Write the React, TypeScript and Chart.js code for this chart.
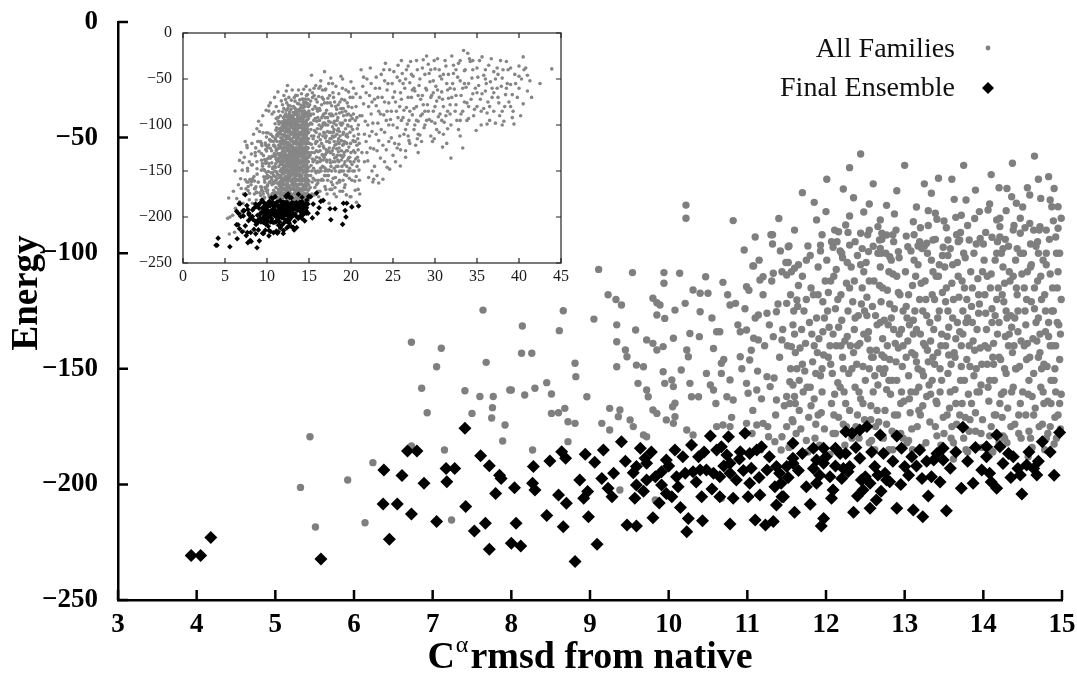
import React, { useEffect, useRef } from "react";
import { Chart, registerables } from "chart.js";

Chart.register(...registerables);

type Pt = [number, number];

// ---------- axis ticks ----------
const mainXTicks = [3, 4, 5, 6, 7, 8, 9, 10, 11, 12, 13, 14, 15];
const mainYTicks = [0, -50, -100, -150, -200, -250];
const insetXTicks = [0, 5, 10, 15, 20, 25, 30, 35, 40, 45];
const insetYTicks = [0, -50, -100, -150, -200, -250];

// ---------- text ----------
const seriesNames = ["All Families", "Final Ensemble"];
const yTitle = "Energy";
const xTitleParts = ["C", "α", "rmsd from native"];

// ---------- data: All Families (rmsd, energy) ----------
const allFamilies: Pt[] = [
  [7.64,-124.6],[6.73,-138.5],[7.11,-141.1],[7.05,-149.1],[7.68,-147.2],[6.86,-158.4],[6.93,-169],[7.41,-159.5],[7.6,-162],[7.77,-162],
  [8.0,-159.2],[7.5,-169.3],[7.76,-166.8],[7.75,-171.3],[7.92,-174.3],[7.89,-181.2],[7.15,-185.1],[6.73,-183.4],[6.24,-190.6],[5.92,-198.1],
  [5.44,-179.4],[5.32,-201.3],[5.51,-218.4],[6.14,-216.6],[7.24,-215.4],
  [9.11,-107],[9.54,-108.4],[9.94,-108.4],[10.14,-108.7],[9.94,-113],[10.47,-110.2],[10.69,-112.6],[10.96,-98.6],[11.08,-105.5],[11.2,-110.2],
  [11.33,-108.7],[11.44,-108],[11.5,-109.4],[11.6,-106.5],[9.23,-118],[9.33,-120],[9.4,-122.4],[9.8,-119.5],[9.85,-121.4],[9.89,-122.4],
  [8.66,-124.9],[9.05,-128.5],[8.61,-133.5],[8.14,-131.5],[8.13,-143.3],[8.26,-143.3],[9.85,-126.7],[9.95,-128.2],[10.08,-124.6],[10.21,-121.7],
  [10.31,-115.9],[10.4,-117.3],[10.5,-117.3],[10.4,-125.3],[10.78,-122.4],[10.85,-121.7],[10.99,-114.5],[11.16,-111.6],[11.14,-126.7],[11.25,-126],
  [11.37,-125.3],[11.5,-121.7],[11.63,-120.2],[9.34,-131],[9.34,-138.3],[9.58,-133.2],[9.72,-137.5],[9.8,-139],[9.85,-141.9],[9.93,-140.4],
  [10.06,-136.8],[10.27,-134.7],[10.23,-141.9],[10.25,-144.8],[10.39,-136.1],[10.61,-134],[10.65,-134],[10.57,-141.2],[10.67,-147.6],[10.91,-134],
  [10.99,-133.2],[11.08,-136.8],[11.14,-137.5],[10.91,-144.8],[11.03,-146.2],[11.33,-136.1],[11.44,-137.5],[11.56,-140.4],[11.54,-155.6],[11.58,-157],
  [11.5,-162],[11.61,-165],[9.34,-149.1],[9.45,-141.9],[9.47,-144.8],[9.59,-148.4],[9.68,-149.1],[9.61,-156.3],[9.72,-159.2],[9.74,-162.1],
  [9.93,-151.3],[9.95,-156.3],[10.04,-154.8],[10.06,-157.7],[10.08,-164.9],[10.05,-166.4],[10.16,-150.5],[10.27,-156.3],[10.29,-162.1],[10.38,-162.1],
  [10.48,-152],[10.53,-157],[10.57,-159.2],[10.67,-152],[10.78,-154.8],[10.74,-162.1],[10.82,-163.5],[10.99,-156.3],[11.01,-160.6],[11.12,-159.2],
  [11.25,-153.4],[11.29,-157.7],[11.37,-163.5],[9.25,-167.1],[9.36,-170.7],[9.38,-167.8],[9.51,-172.1],[9.55,-175],[9.68,-178.6],[9.72,-179.4],
  [9.8,-167.8],[9.85,-169.3],[9.97,-172.1],[10.06,-173.6],[10.08,-170.7],[10.23,-176.5],[10.31,-178.6],[10.61,-175],[10.69,-174.3],[10.78,-175],
  [10.99,-173.6],[11.12,-174.3],[11.2,-173.6],[11.27,-179.4],[11.35,-181.5],[11.44,-179.4],[11.5,-175],[11.58,-172.9],[7.98,-159.2],[8.17,-161.3],
  [8.3,-158.4],[8.45,-156],[8.51,-160.9],[8.51,-169.3],[8.6,-169],[8.68,-167.1],[8.72,-172.9],[8.81,-173.6],[8.96,-162.1],[8.81,-147.6],
  [8.82,-153.4],[8.27,-185.1],[8.72,-181.5],[9.15,-173.6],[9.25,-176.5],[9.38,-202.4],[9.83,-206.7],[10.02,-205.3],[10.67,-206],[11.43,-199.5],
  [11.43,-185.1],[10.22,-79.2],[10.22,-84.9],[10.82,-85.9],[11.32,-92],[11.32,-96],[11.52,-97.2],[11.07,-105.5],
  [12.44,-57.1],[14.37,-61.1],[14.83,-66.9],[12.01,-68],[11.7,-73.8],[12.22,-72.2],[13.43,-67.6],[13.34,-74.1],[13.9,-72.7],[14.2,-71.7],
  [14.56,-71.7],[14.59,-74.8],[13.63,-76.7],[13.78,-77],[12.55,-78.7],[12.77,-79.3],[12.48,-82.2],[12.87,-83],[14.36,-75.6],[14.42,-78.4],
  [14.73,-76.3],[14.85,-77],[14.95,-79.9],[14.87,-79.9],[14.08,-78.7],[14.06,-81.3],[14.29,-81.6],[14.47,-84.9],[14.21,-84.9],[13.3,-81.6],
  [13.39,-82.7],[13.41,-85.3],[13.5,-86.1],[13.65,-84.5],[13.72,-83.6],[13.11,-86.4],[11.88,-85.6],[12.3,-83.9],[12.25,-87.8],[12.11,-90],
  [12.16,-90.7],[12.44,-91.4],[12.69,-85.6],[12.66,-88.5],[12.71,-91.4],[12.77,-92.1],[12.68,-94.3],[11.53,-96.9],[11.77,-96.9],[11.93,-96.5],
  [12.09,-97.4],[12.3,-96.5],[12.37,-95],[12.54,-99.3],[12.69,-97.9],[12.81,-101.5],[12.92,-99.3],[13.02,-92.6],[13.04,-97.2],[13.17,-96.9],
  [13.28,-95.7],[13.36,-94.3],[13.49,-97.4],[13.55,-94.3],[13.7,-94.3],[13.82,-94.3],[13.96,-93.6],[14.11,-93.1],[14.17,-85.6],[14.21,-88.5],
  [14.38,-90],[14.47,-91.4],[14.59,-87.1],[14.64,-90],[14.72,-88.5],[14.8,-90],[14.95,-89.2],[14.99,-84.9],
  [14.97,-165],[14.68,-190.8],[13.62,-189],[13.05,-181],[14.25,-179],[12.85,-185],[11.75,-181],[14.9,-182.5],
  [10.55,-128],[10.6,-165],[10.7,-146],[10.75,-118],[10.8,-171],[10.88,-131],[10.93,-150],[10.97,-124],
  [11.02,-116],[11.05,-142],[11.07,-168],[11.1,-128],[11.13,-151],[11.15,-103],[11.18,-163],[11.2,-118],[11.22,-140],[11.26,-175],
  [11.28,-131],[11.31,-112],[11.34,-154],[11.36,-170],[11.39,-122],[11.41,-145],[11.45,-133],[11.47,-166],[11.49,-104],[11.06,-178],
  [11.17,-185],[11.3,-92],[11.42,-99],
  [11.52,-104],[11.55,-118],[11.58,-131],[11.61,-143],[11.63,-150],[11.66,-168],[11.68,-176],[11.7,-110],[11.72,-125],[11.74,-139],
  [11.76,-158],[11.78,-171],[11.8,-101],[11.81,-115],[11.83,-147],[11.85,-163],[11.86,-180],[11.88,-128],[11.9,-106],[11.91,-137],
  [11.93,-153],[11.94,-169],[11.96,-121],[11.97,-144],[11.99,-112],[11.6,-162],[11.69,-133],[11.77,-186],[11.87,-174],[11.95,-160],
  [11.57,-172],[11.64,-123],[11.82,-135],[11.73,-151],[11.92,-183],
  [12.01,-103],[12.03,-117],[12.04,-132],[12.06,-148],[12.07,-165],[12.09,-178],[12.1,-110],[12.12,-124],[12.13,-140],[12.15,-156],
  [12.16,-171],[12.18,-99],[12.2,-129],[12.21,-145],[12.23,-160],[12.24,-183],[12.26,-113],[12.27,-136],[12.29,-152],[12.3,-168],
  [12.32,-106],[12.34,-121],[12.35,-143],[12.37,-158],[12.38,-175],[12.4,-101],[12.41,-127],[12.43,-139],[12.44,-163],[12.46,-115],
  [12.47,-149],[12.49,-172],[12.05,-187],[12.14,-95],[12.22,-174],[12.28,-91],[12.36,-133],[12.42,-180],[12.48,-108],[12.11,-161],
  [12.51,-104],[12.52,-119],[12.54,-134],[12.55,-150],[12.57,-166],[12.58,-181],[12.6,-97],[12.61,-112],[12.63,-127],[12.64,-142],
  [12.66,-157],[12.67,-173],[12.69,-106],[12.7,-121],[12.72,-137],[12.73,-152],[12.75,-168],[12.76,-100],[12.78,-116],[12.79,-131],
  [12.81,-146],[12.82,-161],[12.84,-177],[12.85,-109],[12.87,-124],[12.88,-139],[12.9,-155],[12.91,-170],[12.93,-102],[12.94,-118],
  [12.96,-133],[12.97,-149],[12.99,-164],[12.53,-92],[12.62,-185],[12.71,-94],[12.8,-185],[12.89,-90],[12.98,-180],[12.56,-142],
  [12.65,-131],[12.74,-145],[12.83,-128],[12.92,-141],[12.77,-159],
  [13.01,-108],[13.02,-123],[13.04,-138],[13.05,-153],[13.07,-169],[13.08,-99],[13.1,-114],[13.11,-129],[13.13,-144],[13.14,-160],
  [13.16,-175],[13.17,-105],[13.19,-120],[13.2,-135],[13.22,-151],[13.23,-166],[13.25,-97],[13.26,-112],[13.28,-127],[13.29,-142],
  [13.31,-157],[13.32,-173],[13.34,-103],[13.35,-118],[13.37,-133],[13.38,-148],[13.4,-164],[13.41,-179],[13.43,-110],[13.44,-125],
  [13.46,-140],[13.47,-155],[13.49,-171],[13.03,-182],[13.12,-92],[13.21,-184],[13.3,-88],[13.39,-94],[13.48,-101],[13.06,-131],
  [13.15,-147],[13.24,-139],[13.33,-161],[13.42,-143],[13.18,-158],
  [13.51,-106],[13.52,-121],[13.54,-136],[13.55,-152],[13.57,-167],[13.58,-98],[13.6,-113],[13.61,-128],[13.63,-143],[13.64,-159],
  [13.66,-174],[13.67,-104],[13.69,-119],[13.7,-134],[13.72,-149],[13.73,-165],[13.75,-100],[13.76,-115],[13.78,-130],[13.79,-146],
  [13.81,-161],[13.82,-177],[13.84,-108],[13.85,-123],[13.87,-138],[13.88,-153],[13.9,-169],[13.91,-96],[13.93,-111],[13.94,-126],
  [13.96,-141],[13.97,-157],[13.99,-172],[13.53,-89],[13.62,-182],[13.71,-91],[13.8,-186],[13.89,-85],[13.98,-184],[13.56,-144],
  [13.65,-137],[13.74,-125],[13.83,-149],[13.92,-133],[13.77,-171],
  [14.01,-103],[14.02,-118],[14.04,-133],[14.05,-148],[14.07,-164],[14.08,-179],[14.1,-109],[14.11,-124],[14.13,-139],[14.14,-155],
  [14.16,-170],[14.17,-100],[14.19,-115],[14.2,-130],[14.22,-146],[14.23,-161],[14.25,-106],[14.26,-121],[14.28,-136],[14.29,-152],
  [14.31,-167],[14.32,-97],[14.34,-112],[14.35,-127],[14.37,-143],[14.38,-158],[14.4,-174],[14.41,-103],[14.43,-118],[14.44,-134],
  [14.46,-149],[14.47,-165],[14.49,-109],[14.03,-91],[14.12,-186],[14.21,-93],[14.3,-182],[14.39,-88],[14.48,-180],[14.06,-141],
  [14.15,-127],[14.24,-171],[14.33,-135],[14.42,-150],[14.27,-113],
  [14.51,-100],[14.52,-115],[14.54,-131],[14.55,-146],[14.57,-161],[14.58,-177],[14.6,-106],[14.61,-121],[14.63,-137],[14.64,-152],
  [14.66,-167],[14.67,-97],[14.69,-112],[14.7,-128],[14.72,-143],[14.73,-158],[14.75,-174],[14.76,-103],[14.78,-118],[14.79,-134],
  [14.81,-149],[14.82,-164],[14.84,-94],[14.85,-109],[14.87,-125],[14.88,-140],[14.9,-155],[14.91,-171],[14.93,-100],[14.94,-115],
  [14.96,-131],[14.97,-146],[14.99,-161],[14.53,-89],[14.62,-184],[14.71,-90],[14.8,-180],[14.89,-86],[14.98,-176],[14.56,-139],
  [14.65,-124],[14.74,-150],[14.83,-136],[14.92,-160],[14.77,-165],
  [11.51,-140],[11.54,-165],[11.56,-108],[11.59,-125],[11.62,-178],[11.65,-114],[11.67,-141],[11.71,-160],[11.75,-103],[11.79,-130],
  [11.84,-118],[11.87,-152],[11.9,-170],[11.93,-99],[11.96,-134],[11.98,-176],[11.53,-184],[11.66,-155],[11.81,-166],[11.89,-143],
  [12.02,-125],[12.05,-140],[12.08,-152],[12.1,-170],[12.13,-107],[12.16,-132],[12.19,-118],[12.22,-150],[12.25,-165],[12.28,-125],
  [12.31,-140],[12.33,-180],[12.36,-112],[12.39,-148],[12.42,-160],[12.45,-122],[12.48,-135],[12.5,-155],[12.12,-178],[12.27,-104],
  [12.4,-170],[12.46,-98],[12.19,-140],[12.07,-95],
  [12.52,-127],[12.55,-112],[12.58,-145],[12.6,-160],[12.63,-175],[12.66,-100],[12.69,-130],[12.72,-115],[12.75,-150],[12.78,-140],
  [12.81,-122],[12.84,-155],[12.87,-170],[12.9,-110],[12.93,-135],[12.96,-160],[12.98,-125],[12.6,-145],[12.73,-180],[12.86,-95],
  [12.95,-178],[12.57,-172],[12.68,-150],[12.8,-108],
  [13.02,-145],[13.05,-118],[13.08,-160],[13.11,-135],[13.14,-110],[13.17,-150],[13.2,-170],[13.23,-125],[13.26,-140],[13.29,-100],
  [13.32,-130],[13.35,-155],[13.38,-120],[13.41,-165],[13.44,-105],[13.47,-135],[13.5,-178],[13.09,-176],[13.19,-95],[13.27,-182],
  [13.36,-145],[13.45,-150],[13.13,-125],[13.4,-110],
  [13.52,-140],[13.55,-125],[13.58,-160],[13.61,-105],[13.64,-145],[13.67,-130],[13.7,-170],[13.73,-112],[13.76,-155],[13.79,-120],
  [13.82,-140],[13.85,-165],[13.88,-100],[13.91,-150],[13.94,-118],[13.97,-178],[13.59,-180],[13.68,-95],[13.78,-185],[13.86,-130],
  [13.95,-160],[13.54,-170],[13.72,-140],[13.99,-108],
  [14.02,-140],[14.05,-110],[14.08,-155],[14.11,-130],[14.14,-170],[14.17,-120],[14.2,-145],[14.23,-100],[14.26,-160],[14.29,-125],
  [14.32,-140],[14.35,-175],[14.38,-110],[14.41,-150],[14.44,-125],[14.47,-100],[14.5,-160],[14.09,-185],[14.18,-95],[14.27,-180],
  [14.36,-132],[14.45,-170],[14.13,-148],[14.4,-128],
  [14.52,-140],[14.55,-120],[14.58,-155],[14.61,-105],[14.64,-170],[14.67,-130],[14.7,-145],[14.73,-110],[14.76,-160],[14.79,-125],
  [14.82,-178],[14.85,-140],[14.88,-115],[14.91,-150],[14.94,-130],[14.97,-100],[14.6,-180],[14.69,-95],[14.78,-185],[14.86,-165],
  [14.95,-170],[14.54,-170],[14.72,-135],[14.99,-120],
  [11.6,-90],[11.85,-78],[12.0,-82],[12.35,-76],[12.6,-70],[12.9,-73],[13.15,-80],[13.25,-70],[13.6,-68],[13.95,-82],
  [14.1,-66],[14.3,-72],[14.5,-80],[14.7,-68],[14.9,-72],[11.95,-92],[12.2,-100],[12.55,-90],[12.85,-92],[13.2,-89],
  [13.55,-101],[13.8,-88],[14.0,-96],[14.25,-98],[14.6,-96],[14.8,-100],[14.92,-93],[13.0,-62],[13.75,-62],[14.65,-58],
  [12.3,-63],[11.4,-85],[11.1,-93],
  [12.53,-137],[12.59,-123],[12.62,-153],[12.65,-168],[12.68,-114],[12.71,-144],[12.74,-129],[12.77,-174],[12.8,-155],[12.83,-103],
  [12.86,-133],[12.89,-147],[12.92,-117],[12.95,-165],[12.98,-140],[12.55,-182],[12.7,-100],[12.88,-178],
  [13.03,-128],[13.06,-163],[13.09,-143],[13.12,-103],[13.15,-133],[13.18,-168],[13.21,-113],[13.24,-153],[13.27,-120],[13.3,-147],
  [13.33,-138],[13.36,-108],[13.39,-175],[13.42,-128],[13.45,-160],[13.48,-117],[13.1,-185],[13.28,-162],[13.46,-183],[13.22,-98],
  [13.53,-115],[13.56,-132],[13.59,-148],[13.62,-120],[13.65,-165],[13.68,-110],[13.71,-155],[13.74,-135],[13.77,-102],[13.8,-128],
  [13.83,-172],[13.86,-115],[13.89,-142],[13.92,-160],[13.95,-122],[13.98,-148],[13.6,-175],[13.75,-180],[13.9,-177],[13.66,-92],
  [14.03,-126],[14.06,-158],[14.09,-115],[14.12,-145],[14.15,-103],[14.18,-135],[14.21,-165],[14.24,-118],[14.27,-150],[14.3,-128],
  [14.33,-108],[14.36,-160],[14.39,-140],[14.42,-115],[14.45,-178],[14.48,-138],[14.1,-175],[14.28,-94],[14.43,-98],[14.2,-182],
  [14.53,-125],[14.56,-108],[14.59,-145],[14.62,-162],[14.65,-115],[14.68,-138],[14.71,-175],[14.74,-120],[14.77,-148],[14.8,-105],
  [14.83,-130],[14.86,-155],[14.89,-125],[14.92,-140],[14.95,-108],[14.98,-135],[14.7,-100],[14.85,-175],[14.57,-188],[14.93,-180],
  [12.03,-145],[12.06,-112],[12.09,-135],[12.15,-120],[12.18,-158],[12.21,-102],[12.24,-138],[12.3,-115],[12.33,-150],[12.37,-128],
  [12.4,-140],[12.44,-105],[12.47,-165],[12.49,-125],[12.26,-175],
  [11.55,-150],[11.6,-135],[11.65,-105],[11.7,-148],[11.75,-120],[11.8,-158],[11.85,-140],[11.9,-118],[11.95,-150],[11.98,-128],
];

// points only visible in the full-range inset
const allFamiliesInsetOnly: Pt[] = [
  [9.0,-96],[9.5,-90],[9.9,-84],[10.4,-76],[10.9,-70],[11.3,-64],[8.4,-110],[8.8,-104],[7.6,-122],[9.3,-100],[10.6,-88],[11.1,-80],
  [6.2,-150],[6.6,-165],[6.9,-130],[7.2,-175],[7.4,-118],[7.9,-140],[8.2,-120],[8.5,-175],[8.8,-140],[6.4,-180],[7.0,-195],[7.7,-150],
  [8.1,-165],[8.6,-130],[5.6,-200],[6.0,-172],[8.9,-118],[7.3,-135],
  [15.1,-62],[15.2,-88],[15.3,-112],[15.4,-137],[15.5,-158],[15.6,-176],[15.2,-74],[15.35,-99],[15.45,-125],[15.55,-147],[15.7,-168],
  [15.8,-57],[15.9,-82],[16.0,-104],[16.1,-129],[16.2,-151],[16.3,-172],[15.75,-93],[15.85,-118],[15.95,-141],[16.05,-163],[16.15,-69],
  [16.25,-95],[16.35,-116],[16.45,-138],[16.55,-159],[16.65,-181],[16.4,-52],[16.5,-78],[16.6,-101],[16.7,-123],[16.8,-146],[16.9,-167],
  [16.75,-88],[16.85,-109],[16.95,-132],[17.05,-155],[17.15,-175],[17.0,-61],[17.1,-84],[17.2,-107],[17.3,-128],[17.4,-149],[17.5,-170],
  [17.25,-71],[17.35,-96],[17.45,-119],[17.55,-141],[17.65,-162],[17.6,-49],[17.7,-79],[17.8,-102],[17.9,-125],[18.0,-147],[18.1,-168],
  [17.85,-90],[17.95,-113],[18.05,-136],[18.15,-157],[18.25,-178],[18.2,-58],[18.3,-83],[18.4,-106],[18.5,-129],[18.6,-151],[18.7,-172],
  [18.35,-95],[18.45,-118],[18.55,-140],[18.65,-162],[18.8,-47],[18.9,-72],[19.0,-98],[19.1,-121],[19.2,-143],[19.3,-165],[18.95,-86],
  [19.05,-110],[19.15,-133],[19.25,-154],[19.4,-62],[19.5,-89],[19.6,-113],[19.7,-136],[19.8,-158],[19.9,-178],[19.55,-76],[19.65,-101],
  [19.75,-124],[19.85,-147],[20.0,-53],[20.1,-81],[20.2,-105],[20.3,-128],[20.4,-150],[20.5,-171],[20.15,-93],[20.25,-117],[20.35,-140],
  [20.45,-161],[20.6,-66],[20.7,-92],[20.8,-115],[20.9,-139],[21.0,-160],[20.75,-104],[20.85,-127],[20.95,-149],[21.05,-175],[15.15,-168],
  [15.65,-130],[16.3,-84],[16.95,-114],[17.55,-97],[18.25,-121],[18.75,-133],[19.35,-104],[19.95,-120],[20.55,-137],[15.3,-46],[16.85,-42],
  [18.55,-66],[19.45,-176],[20.65,-184],[17.4,-185],
  [15.05,-120],[15.25,-144],[15.45,-83],[15.65,-106],[15.85,-152],[16.05,-92],[16.25,-136],[16.45,-160],[16.65,-112],[16.85,-76],
  [17.05,-127],[17.25,-150],[17.45,-88],[17.65,-115],[17.85,-140],[18.05,-75],[18.25,-100],[18.45,-145],[18.65,-87],[18.85,-117],
  [19.05,-160],[19.25,-73],[19.45,-128],[19.65,-150],[19.85,-95],[15.12,-133],[15.38,-162],[15.62,-68],[15.88,-128],[16.12,-113],
  [16.38,-147],[16.62,-133],[16.88,-98],[17.12,-140],[17.38,-108],[17.62,-130],[17.88,-158],[18.12,-112],[18.38,-133],[18.62,-107],
  [18.88,-150],[19.12,-90],[19.38,-119],[19.62,-138],[19.88,-108],[20.12,-143],[20.38,-118],[20.62,-156],[20.88,-100],[15.5,-115],
  [16.0,-140],[16.5,-120],[17.0,-100],[17.5,-130],[18.0,-118],[18.5,-104],[19.0,-135],[19.5,-145],[20.0,-130],[20.5,-95],
  [15.15,-90],[15.3,-130],[15.42,-70],[15.58,-95],[15.72,-150],[15.85,-108],[15.98,-75],[16.1,-160],[16.22,-123],[16.35,-58],
  [16.48,-102],[16.6,-145],[16.72,-72],[16.85,-155],[16.98,-87],[17.1,-118],[17.22,-160],[17.35,-55],[17.48,-138],[17.6,-90],
  [17.72,-170],[17.85,-65],[17.98,-105],[18.1,-140],[18.22,-88],[18.35,-163],[18.48,-78],[18.6,-120],[18.72,-98],[18.85,-138],
  [18.98,-60],[19.1,-108],[19.22,-168],[19.35,-85],[19.48,-155],[19.6,-100],[19.72,-64],[19.85,-135],[19.98,-90],[20.1,-160],
  [20.22,-70],[20.35,-112],[20.48,-130],[20.6,-80],[20.72,-145],[20.85,-170],[20.98,-120],[21.05,-90],[15.7,-80],[16.2,-100],
  [16.7,-138],[17.2,-92],[17.7,-150],[18.2,-135],[18.7,-150],[19.2,-118],[19.7,-88],[20.2,-150],[20.7,-122],[15.2,-155],
  [15.22,-105],[15.48,-140],[15.78,-120],[16.02,-85],[16.28,-110],[16.52,-92],[16.78,-125],[17.02,-148],[17.28,-118],[17.52,-76],
  [17.78,-112],[18.02,-96],[18.28,-145],[18.52,-115],[18.78,-82],[19.02,-122],[19.28,-140],[19.52,-110],[19.78,-150],[20.02,-102],
  [20.28,-88],[20.52,-118],[20.78,-135],[15.35,-175],[16.15,-178],[17.0,-170],[18.0,-175],[19.0,-172],[20.0,-178],[15.6,-60],
  [16.6,-62],[17.8,-55],[19.0,-50],[20.3,-60],[15.9,-165],[16.9,-150],[17.9,-132],[18.9,-100],[19.9,-70],[20.9,-110],
  [15.08,-78],[15.18,-98],[15.28,-121],[15.33,-150],[15.4,-65],[15.52,-88],[15.58,-112],[15.68,-138],[15.75,-160],[15.82,-72],
  [15.92,-96],[15.96,-118],[16.04,-150],[16.08,-172],[16.18,-60],[16.24,-82],[16.32,-128],[16.4,-104],[16.44,-150],[16.56,-70],
  [16.58,-132],[16.64,-90],[16.68,-160],[16.76,-108],[16.82,-135],[16.92,-62],[16.96,-92],[17.04,-112],[17.08,-138],[17.18,-76],
  [17.24,-100],[17.32,-155],[17.42,-125],[17.46,-68],[17.58,-108],[17.62,-145],[17.68,-88],[17.76,-128],[17.82,-165],[17.92,-70],
  [17.96,-98],[18.08,-122],[18.14,-150],[18.18,-80],[18.32,-110],[18.42,-138],[18.44,-92],[18.58,-125],[18.62,-160],[18.68,-75],
  [18.82,-100],[18.86,-128],[18.92,-145],[19.08,-82],[19.18,-130],[19.32,-95],[19.42,-112],[19.58,-128],[19.68,-80],[19.92,-140],
  [15.9,-135],[16.3,-140],[16.7,-98],[17.1,-130],[17.5,-115],[17.9,-108],[18.3,-126],[18.7,-112],[19.1,-150],[19.5,-120],
  [21.2,-40],[21.4,-58],[21.5,-77],[21.7,-96],[21.8,-118],[22.0,-139],[22.1,-157],[21.3,-130],[21.9,-50],[22.2,-68],
  [22.4,-88],[22.5,-107],[22.7,-126],[22.8,-145],[22.3,-38],[22.6,-162],[22.9,-60],[23.0,-79],[23.2,-98],[23.3,-117],
  [23.5,-136],[23.1,-155],[23.6,-45],[23.7,-70],[23.9,-89],[24.0,-108],[24.2,-127],[24.3,-146],[23.8,-159],[24.1,-33],
  [24.4,-55],[24.5,-76],[24.7,-94],[24.8,-114],[25.0,-133],[24.6,-148],[25.1,-42],[25.2,-64],[25.4,-85],[25.5,-103],
  [25.7,-121],[25.9,-127],[25.3,-140],[25.6,-35],[25.8,-52],[26.0,-72],[26.2,-92],[26.3,-110],[26.5,-128],[26.1,-44],
  [26.4,-60],[26.6,-81],[26.7,-99],[26.9,-117],[26.8,-36],[27.0,-54],[27.2,-70],[27.3,-89],[27.5,-105],[27.7,-122],
  [27.1,-31],[27.4,-47],[27.6,-63],[27.8,-80],[28.0,-96],[28.2,-111],[27.9,-40],[28.1,-57],[28.3,-72],[28.5,-88],
  [28.6,-29],[28.7,-103],[28.4,-118],[28.8,-45],[29.0,-62],[29.1,-78],[29.3,-94],[29.5,-112],[29.2,-34],[29.4,-53],
  [29.6,-68],[29.8,-85],[29.7,-118],[30.0,-39],[30.1,-58],[30.2,-74],[30.4,-91],[30.5,-108],[30.3,-28],[30.6,-47],
  [30.8,-64],[31.0,-80],[31.1,-97],[30.9,-124],[31.3,-36],[31.4,-55],[31.6,-71],[31.8,-88],[31.9,-136],[31.5,-104],
  [32.0,-25],[32.2,-44],[32.3,-61],[32.5,-78],[32.6,-95],[32.8,-33],[33.0,-52],[33.1,-68],[33.3,-85],[33.3,-125],
  [33.4,-19],[33.9,-22],[33.5,-41],[33.7,-59],[33.8,-76],[34.0,-93],[34.2,-31],[34.4,-49],[34.5,-66],[34.7,-83],
  [34.9,-106],[35.0,-38],[35.2,-57],[35.4,-72],[35.6,-26],[35.8,-46],[36.0,-63],[36.2,-87],[36.2,-99],[36.4,-35],
  [36.6,-53],[36.8,-70],[37.2,-98],[37.0,-42],[37.4,-60],[37.6,-76],[37.8,-30],[38.0,-49],[38.2,-96],[38.4,-67],
  [38.5,-31],[38.7,-40],[39.0,-56],[39.2,-67],[39.4,-99],[39.6,-55],[39.3,-85],[40.0,-47],[40.5,-26],[40.5,-77],
  [40.2,-90],[41.0,-63],[40.8,-38],[41.3,-52],[43.9,-39],[25.87,-144.6],[23.3,-163],[22.7,-159],
  [21.1,-70],[21.3,-90],[21.6,-110],[21.6,-140],[21.9,-130],[22.1,-80],[22.2,-112],[22.4,-55],[22.6,-98],[22.8,-72],
  [23.0,-48],[23.1,-128],[23.3,-85],[23.4,-60],[23.6,-105],[23.8,-122],[23.9,-40],[24.0,-75],[24.2,-95],[24.3,-62],
  [24.5,-118],[24.6,-40],[24.8,-85],[24.9,-55],[25.0,-100],[25.2,-120],[25.3,-75],[25.5,-48],[25.6,-92],[25.8,-112],
  [25.9,-65],[26.0,-30],[26.2,-55],[26.3,-84],[26.5,-105],[26.6,-40],[26.8,-70],[26.9,-95],[27.0,-120],[27.2,-45],
  [27.3,-62],[27.5,-82],[27.6,-100],[27.8,-30],[27.9,-115],[28.0,-68],[28.2,-50],[28.3,-90],[28.5,-38],[28.6,-78],
  [28.8,-100],[28.9,-60],[29.0,-25],[29.2,-85],[29.3,-44],[29.5,-70],[29.6,-96],[29.8,-52],[29.9,-30],[30.0,-80],
  [30.2,-105],[30.3,-62],[30.5,-40],[30.6,-88],[30.8,-50],[30.9,-72],[31.0,-110],[31.2,-30],[31.3,-90],[31.5,-62],
  [31.6,-45],[31.8,-78],[31.9,-100],[32.1,-55],[32.2,-35],[32.4,-85],[32.5,-68],[32.7,-48],[32.8,-105],[33.0,-30],
  [33.1,-88],[33.3,-60],[33.5,-75],[33.6,-40],[33.8,-95],[34.0,-55],[34.1,-28],[34.3,-72],[34.5,-40],[34.6,-90],
  [34.8,-60],[35.0,-80],[35.1,-48],[35.3,-30],[35.5,-100],[35.6,-66],[35.8,-82],[36.0,-40],[36.1,-55],[36.3,-75],
  [36.5,-95],[36.7,-28],[36.8,-60],[37.0,-85],[37.2,-50],[37.4,-38],[37.5,-70],[37.7,-90],[37.9,-58],[38.1,-40],
  [38.3,-80],[38.6,-55],[38.8,-75],[39.0,-38],[39.2,-92],[39.5,-45],[39.8,-70],[40.0,-60],[40.3,-50],[40.6,-40],
  [41.0,-46],[38.0,-100],[33.0,-112],[31.4,-120],[29.9,-115],[28.0,-130],[26.5,-135],[24.0,-140],[22.5,-150],
  [21.5,-48],[22.0,-100],[22.5,-75],[23.0,-110],[23.5,-88],[24.0,-52],[24.5,-100],[25.0,-70],[25.5,-125],[26.0,-95],
  [26.5,-50],[27.0,-85],[27.5,-60],[28.0,-110],[28.5,-68],[29.0,-95],[29.5,-40],[30.0,-98],[30.5,-70],[31.0,-45],
  [31.5,-85],[32.0,-70],[32.5,-40],[33.0,-95],[33.5,-55],[34.0,-80],[34.5,-30],[35.0,-65],[35.5,-85],[36.0,-50],
  [36.5,-80],[37.0,-65],[37.5,-45],[38.0,-85],[38.5,-60],[39.0,-80],[40.0,-36],[41.5,-70],[42.5,-55],[21.8,-65],
  [22.3,-125],[23.2,-70],[24.3,-85],[25.8,-80],[26.8,-112],[27.8,-95],[28.8,-85],[29.8,-65],[30.8,-95],[31.8,-60],
];

// ---------- data: Final Ensemble ----------
const finalEnsemble: Pt[] = [
  [3.93,-230.7],[4.05,-230.7],[4.18,-223],[5.58,-232.3],[6.38,-193.8],[6.61,-196.2],[6.37,-208.5],[6.55,-208.5],[6.45,-223.7],[6.68,-185.6],
  [6.8,-185.6],[6.73,-212.8],[6.89,-199.5],[7.05,-216.1],[7.17,-193.1],[7.28,-193.1],[7.18,-198.8],[7.41,-175.7],[7.42,-209.6],[7.53,-220.2],
  [7.61,-187.6],[7.67,-216.8],[7.72,-191.9],[7.72,-228],[7.85,-196],[7.87,-197.5],[7.8,-203.9],[8.04,-201.4],[8.0,-225.5],[8.06,-216.8],
  [8.12,-226.6],[8.28,-192.3],[8.49,-189.9],[8.64,-185.9],[8.69,-188.7],[8.27,-199.5],[8.3,-202.4],[8.45,-213.5],[8.66,-218.3],[8.6,-204.6],
  [8.7,-208.2],[8.81,-233.4],[8.94,-187],[9.06,-190.4],[9.17,-185.1],[8.87,-198.1],[8.97,-203.1],[8.92,-206],[8.98,-214],[9.09,-225.9],
  [9.15,-197.4],[9.23,-201.7],[9.3,-195.2],[9.28,-205.3],[9.4,-181.5],[9.57,-206],[9.47,-217.6],[9.59,-218],[9.8,-214.4],[9.64,-184.4],
  [9.7,-188.7],[9.59,-192.3],[9.72,-190.9],[9.59,-200.3],[9.72,-198.1],[9.83,-196.7],[9.91,-194.5],[9.91,-200.3],[9.97,-203.9],[10.04,-205.3],
  [9.97,-189.4],[10.08,-185.1],[10.1,-196.7],[10.21,-195.2],[10.31,-194.5],[10.4,-193.8],[10.48,-193.8],[10.29,-183],[10.38,-188],[10.42,-205.3],
  [10.25,-214.7],[10.23,-220.5],[10.43,-215.7],[10.53,-179.1],[10.61,-185.1],[10.67,-183.7],[10.74,-187.3],[10.78,-190.9],[10.57,-195.2],[10.65,-196.7],
  [10.78,-195.2],[10.86,-198.1],[10.65,-205.3],[10.76,-179.4],[10.97,-177.9],[10.91,-185.9],[11.03,-186.6],[11.12,-185.1],[11.18,-183.7],[10.78,-217.1],
  [11.03,-199.5],[11.01,-205.3],[11.16,-204.6],[11.1,-215.4],[11.23,-217.6],[11.33,-216.1],[11.25,-193.8],[11.37,-192.3],[11.5,-192.3],[11.58,-188.7],
  [11.58,-182.2],[11.43,-199.5],[11.44,-205.3],[11.37,-208.9],
  [11.58,-190.9],[11.41,-195.2],[11.46,-205.3],[11.7,-186.6],[11.84,-184.4],[11.97,-184.4],[11.88,-189.4],[11.97,-190.9],[11.84,-193.1],[12.12,-184.4],
  [12.18,-186.6],[12.25,-186.6],[12.25,-177.2],[12.33,-177.9],[12.43,-176.5],[12.52,-175],[11.88,-199.5],[12.05,-196.7],[12.09,-202.4],[12.07,-206],
  [11.8,-208.6],[11.97,-214.7],[11.94,-218],[12.22,-193.1],[12.28,-194.5],[12.3,-192.3],[12.2,-197.4],[12.43,-188.7],[12.45,-198.1],[12.47,-202.4],
  [12.62,-192.3],[12.66,-195.9],[12.5,-196.7],[12.56,-199.5],[12.69,-178.6],[12.64,-206.7],[12.56,-210.3],[12.73,-186.6],[12.75,-195.2],[12.77,-198.1],
  [12.81,-198.8],[12.9,-179.1],[12.96,-184.4],[13.0,-192.3],[12.9,-210.3],[13.09,-188],[13.19,-185.1],[13.11,-211.1],[13.23,-214],[13.22,-197.4],
  [13.34,-196.7],[13.37,-189.4],[13.41,-186.6],[13.49,-184.4],[13.49,-189.4],[13.53,-211.4],[13.74,-175.3],[13.72,-201.7],[13.87,-199.5],[13.98,-193.8],
  [14.04,-183.7],[14.04,-188],[14.08,-195.2],[14.17,-201.7],[14.17,-178.6],[14.21,-183.7],[14.32,-186.6],[14.38,-188],[14.44,-193.1],[14.47,-195.9],
  [14.55,-191.6],[14.64,-193.1],[14.68,-195.9],[14.49,-204.2],[14.75,-181.5],[14.97,-177.6],
  [9.55,-195],[9.68,-203],[9.78,-186],[9.88,-208],[10.0,-192],[10.12,-201],[10.18,-188],[10.35,-199],[10.45,-186],[10.55,-202],
  [10.7,-192],[10.82,-206],[10.9,-189],[11.05,-193],[11.15,-197],[11.28,-188],[11.35,-201],[11.52,-197],[11.65,-194],[11.75,-201],
  [11.92,-196],[12.0,-188],[12.12,-192],[12.38,-184],[12.4,-205],[12.58,-186],[12.7,-203],[12.85,-190],[12.95,-200],[13.05,-196],
  [13.15,-192],[13.28,-190],[13.45,-199],[13.58,-193],[13.65,-186],[13.8,-190],[13.9,-184],[14.1,-199],[14.25,-191],[14.35,-197],
  [14.58,-186],[14.7,-190],[14.85,-186],[14.9,-196],[10.15,-210],[11.6,-212],[12.35,-212],[13.3,-205],[9.45,-190],[10.95,-194],
];

const finalEnsembleInsetOnly: Pt[] = [
  [15.2,-178],[15.9,-174],[16.7,-182],[17.5,-191],[18.1,-191],[17.6,-203],[19.0,-208],[19.1,-185],[19.5,-185],[19.3,-193],
  [19.4,-200],[20.1,-189],[20.9,-188],[15.5,-186],[16.2,-190],[16.0,-196],[15.4,-201],[16.4,-183],
];

// ---------- styling ----------
const SERIF = '"Liberation Serif", "Times New Roman", serif';
const GRAY = "#7f7f7f";
const BLACK = "#000000";

const fmt = (v: number) => (v < 0 ? "\u2212" + Math.abs(v) : String(v));
const toXY = (arr: Pt[]) => arr.map(([x, y]) => ({ x, y }));

function inwardTicks(len: number, width: number, color: string, box: boolean) {
  return {
    id: "inwardTicks",
    afterDraw(chart: any) {
      const { ctx, chartArea: a } = chart;
      const xs = chart.scales.x;
      const ys = chart.scales.y;
      ctx.save();
      ctx.strokeStyle = color;
      ctx.lineWidth = width;
      ctx.beginPath();
      xs.ticks.forEach((t: any) => {
        const px = xs.getPixelForValue(t.value);
        ctx.moveTo(px, a.bottom);
        ctx.lineTo(px, a.bottom - len);
        if (box) {
          ctx.moveTo(px, a.top);
          ctx.lineTo(px, a.top + len);
        }
      });
      ys.ticks.forEach((t: any) => {
        const py = ys.getPixelForValue(t.value);
        ctx.moveTo(a.left, py);
        ctx.lineTo(a.left + len, py);
        if (box) {
          ctx.moveTo(a.right, py);
          ctx.lineTo(a.right - len, py);
        }
      });
      ctx.stroke();
      if (box) ctx.strokeRect(a.left, a.top, a.right - a.left, a.bottom - a.top);
      ctx.restore();
    },
  };
}

const mainDecor = {
  id: "mainDecor",
  afterDraw(chart: any) {
    const { ctx, chartArea: a } = chart;
    ctx.save();
    ctx.fillStyle = "#000";
    // y title
    ctx.save();
    ctx.translate(27, 293);
    ctx.rotate(-Math.PI / 2);
    ctx.font = `bold 37px ${SERIF}`;
    ctx.textAlign = "center";
    ctx.textBaseline = "middle";
    ctx.fillText(yTitle, 0, 0);
    ctx.restore();
    // x title with superscript alpha
    const big = `bold 38px ${SERIF}`;
    const small = `24px ${SERIF}`;
    ctx.font = big;
    const wC = ctx.measureText(xTitleParts[0]).width;
    const wR = ctx.measureText(xTitleParts[2]).width;
    ctx.font = small;
    const wA = ctx.measureText(xTitleParts[1]).width;
    const gap = 3;
    const total = wC + wA + gap + wR;
    let x0 = (a.left + a.right) / 2 - total / 2;
    const base = 668;
    ctx.textAlign = "left";
    ctx.textBaseline = "alphabetic";
    ctx.font = big;
    ctx.fillText(xTitleParts[0], x0, base);
    x0 += wC;
    ctx.font = small;
    ctx.fillText(xTitleParts[1], x0 + 1, base - 16);
    x0 += wA + gap;
    ctx.font = big;
    ctx.fillText(xTitleParts[2], x0, base);
    // legend
    const tx = a.right - 107;
    const mx = a.right - 74;
    ctx.font = `28px ${SERIF}`;
    ctx.textAlign = "right";
    ctx.fillStyle = "#111";
    ctx.fillText(seriesNames[0], tx, 57);
    ctx.fillText(seriesNames[1], tx, 96);
    ctx.fillStyle = GRAY;
    ctx.beginPath();
    ctx.arc(mx, 48, 2.4, 0, Math.PI * 2);
    ctx.fill();
    ctx.fillStyle = BLACK;
    ctx.beginPath();
    const r = 6;
    ctx.moveTo(mx, 88 - r);
    ctx.lineTo(mx + r, 88);
    ctx.lineTo(mx, 88 + r);
    ctx.lineTo(mx - r, 88);
    ctx.closePath();
    ctx.fill();
    ctx.restore();
  },
};

function mainConfig(): any {
  return {
    type: "scatter",
    data: {
      datasets: [
        {
          label: seriesNames[1],
          data: toXY(finalEnsemble.filter((p) => p[0] >= 3 && p[0] <= 15)),
          pointStyle: "rectRot",
          pointRadius: 6.5,
          backgroundColor: BLACK,
          borderWidth: 0,
          clip: false,
        },
        {
          label: seriesNames[0],
          data: toXY(allFamilies.filter((p) => p[0] >= 3 && p[0] <= 15)),
          pointStyle: "circle",
          pointRadius: 3.7,
          backgroundColor: GRAY,
          borderWidth: 0,
          clip: false,
        },
      ],
    },
    options: {
      responsive: false,
      animation: false,
      events: [],
      layout: { padding: { left: 0, right: 15, top: 22, bottom: 0 } },
      plugins: { legend: { display: false }, tooltip: { enabled: false } },
      scales: {
        x: {
          type: "linear",
          min: 3,
          max: 15,
          afterFit: (s: any) => { s.height = 81; s.paddingLeft = 0; s.paddingRight = 0; },
          afterBuildTicks: (s: any) => { s.ticks = mainXTicks.map((v) => ({ value: v })); },
          grid: { display: false },
          border: { display: true, width: 2.5, color: BLACK },
          ticks: {
            font: { family: SERIF, size: 27, weight: "bold" },
            color: BLACK,
            padding: 1,
            maxRotation: 0,
            autoSkip: false,
            callback: (v: number) => fmt(v),
          },
        },
        y: {
          type: "linear",
          min: -250,
          max: 0,
          afterFit: (s: any) => { s.width = 118; s.paddingTop = 0; s.paddingBottom = 0; },
          afterBuildTicks: (s: any) => { s.ticks = mainYTicks.map((v) => ({ value: v })); },
          grid: { display: false },
          border: { display: true, width: 2.5, color: BLACK },
          ticks: {
            font: { family: SERIF, size: 27, weight: "bold" },
            color: BLACK,
            padding: 12,
            autoSkip: false,
            callback: (v: number) => fmt(v),
          },
        },
      },
    },
    plugins: [inwardTicks(10, 2.5, BLACK, false), mainDecor],
  };
}

function insetConfig(): any {
  return {
    type: "scatter",
    data: {
      datasets: [
        {
          label: seriesNames[1],
          data: toXY(finalEnsemble.concat(finalEnsembleInsetOnly)),
          pointStyle: "rectRot",
          pointRadius: 2.8,
          backgroundColor: BLACK,
          borderWidth: 0,
        },
        {
          label: seriesNames[0],
          data: toXY(allFamilies.concat(allFamiliesInsetOnly)),
          pointStyle: "circle",
          pointRadius: 1.8,
          backgroundColor: "#868686",
          borderWidth: 0,
        },
      ],
    },
    options: {
      responsive: false,
      animation: false,
      events: [],
      layout: { padding: { left: 0, right: 19, top: 18, bottom: 0 } },
      plugins: { legend: { display: false }, tooltip: { enabled: false } },
      scales: {
        x: {
          type: "linear",
          min: 0,
          max: 45,
          afterFit: (s: any) => { s.height = 42; s.paddingLeft = 0; s.paddingRight = 0; },
          afterBuildTicks: (s: any) => { s.ticks = insetXTicks.map((v) => ({ value: v })); },
          grid: { display: false },
          border: { display: false },
          ticks: {
            font: { family: SERIF, size: 16 },
            color: "#1a1a1a",
            padding: -4,
            maxRotation: 0,
            autoSkip: false,
            callback: (v: number) => fmt(v),
          },
        },
        y: {
          type: "linear",
          min: -250,
          max: 0,
          afterFit: (s: any) => { s.width = 63; s.paddingTop = 0; s.paddingBottom = 0; },
          afterBuildTicks: (s: any) => { s.ticks = insetYTicks.map((v) => ({ value: v })); },
          grid: { display: false },
          border: { display: false },
          ticks: {
            font: { family: SERIF, size: 16 },
            color: "#1a1a1a",
            padding: 3,
            autoSkip: false,
            callback: (v: number) => fmt(v),
          },
        },
      },
    },
    plugins: [inwardTicks(5, 1.2, "#222", true)],
  };
}

export default function App() {
  const mainRef = useRef<HTMLCanvasElement>(null);
  const insetRef = useRef<HTMLCanvasElement>(null);

  useEffect(() => {
    const main = new Chart(mainRef.current as HTMLCanvasElement, mainConfig());
    const inset = new Chart(insetRef.current as HTMLCanvasElement, insetConfig());
    return () => {
      main.destroy();
      inset.destroy();
    };
  }, []);

  return (
    <div style={{ position: "fixed", left: 0, top: 0, width: 1077, height: 681, background: "#ffffff" }}>
      <canvas ref={mainRef} width={1077} height={681} style={{ position: "absolute", left: 0, top: 0 }} />
      <canvas ref={insetRef} width={460} height={290} style={{ position: "absolute", left: 120, top: 15 }} />
    </div>
  );
}
